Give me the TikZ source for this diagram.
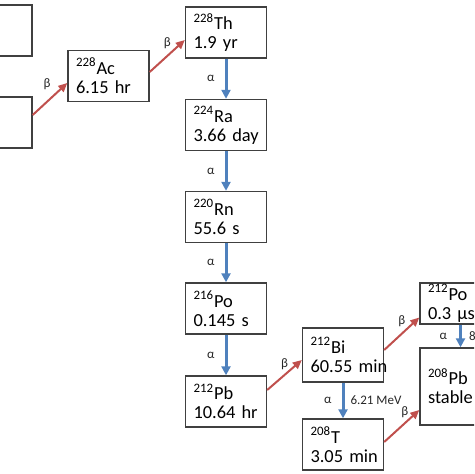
\documentclass[tikz,border=0pt]{standalone}
\usepackage{fontspec}
\setmainfont{Carlito}
\usepackage{xcolor}
\usetikzlibrary{arrows.meta}

\definecolor{decayred}{RGB}{192,80,77}
\definecolor{decayblue}{RGB}{79,129,189}

\tikzset{
  nuclide/.style={draw=black!75, line width=0.7pt, minimum width=40.5pt,
    minimum height=25.5pt, text width=32.5pt, inner xsep=4pt, inner ysep=0pt,
    align=left, font=\fontsize{9.2}{9.5}\selectfont},
  alphadecay/.style={-{Triangle[length=4.5pt,width=4.5pt]}, decayblue, line width=1.5pt},
  betadecay/.style={-{Triangle[length=4.5pt,width=4pt]}, decayred, line width=1pt},
  decaylbl/.style={font=\fontsize{6.5}{7}\selectfont, inner sep=0pt, text=black!85},
}

\begin{document}
\begin{tikzpicture}[x=0.5pt, y=-0.5pt]
  \useasboundingbox (0,0) rectangle (474,474);
  \clip (0,0) rectangle (474,474);

  % ── Parent boxes (cut at left edge) ──
  \node[nuclide] (topleft) at (-8.5,30.5) {};
  \node[nuclide] (ra228)   at (-8.5,122.5) {};
  \node[nuclide] (ac228)   at (108.5,76) {\textsuperscript{228}Ac\\6.15~hr};

  % ── Main column ──
  \node[nuclide] (th228) at (226,32.5)  {\textsuperscript{228}Th\\1.9~yr};
  \node[nuclide] (ra224) at (226,125)   {\textsuperscript{224}Ra\\3.66~day};
  \node[nuclide] (rn220) at (226,217)   {\textsuperscript{220}Rn\\55.6~s};
  \node[nuclide] (po216) at (226,308.5) {\textsuperscript{216}Po\\0.145~s};
  \node[nuclide] (pb212) at (226,401.5) {\textsuperscript{212}Pb\\10.64~hr};

  % ── Branching ──
  \node[nuclide, minimum height=27pt] (bi212) at (343,355)   {\textsuperscript{212}Bi\\60.55~min};
  \node[nuclide] (tl208) at (343,444.5) {\textsuperscript{208}T\\3.05~min};
  \node[nuclide, minimum height=20.5pt] (po212) at (460.5,303.5) {\textsuperscript{212}Po\\0.3~µs};
  \node[nuclide, minimum height=38.5pt, text depth=10pt] (pb208) at (460.5,386.5)
    {\textsuperscript{208}Pb\\stable};

  % ── Beta decays ──
  \draw[betadecay] ([yshift=3.75pt]ra228.east) -- ([yshift=-3.5pt]ac228.west)
    node[decaylbl, midway, above=4pt, xshift=-1.5pt] (b1) {β};
  \draw[betadecay] ([yshift=2pt]ac228.east) -- ([yshift=-3.75pt]th228.west)
    node[decaylbl, midway, above=3pt] (b2) {β};
  \draw[betadecay] ([yshift=5.75pt]pb212.east) -- ([yshift=-2.5pt]bi212.west)
    node[decaylbl, midway, above=2pt] (b3) {β};
  \draw[betadecay] ([yshift=2.5pt]bi212.east) -- ([yshift=-7pt]po212.west)
    node[decaylbl, midway, above=3pt] (b4) {β};
  \draw[betadecay] ([yshift=1.25pt]tl208.east) -- ([yshift=-11.75pt]pb208.west)
    node[decaylbl, midway, above=3.5pt, xshift=1.5pt] (b5) {β};

  % ── Alpha decays ──
  \foreach \from/\to in {th228/ra224, ra224/rn220, rn220/po216, po216/pb212} {
    \draw[alphadecay] (\from.south) -- (\to.north)
      node[decaylbl, midway, left=5pt] {α};
  }
  \draw[alphadecay] (bi212.south) -- (tl208.north)
    node[decaylbl, midway, left=5pt] (a5) {α}
    node[decaylbl, midway, right=3pt] (e5) {6.21 MeV};
  \draw[alphadecay] (po212.south) -- (pb208.north)
    node[decaylbl, midway, left=6pt] (a6) {α}
    node[decaylbl, midway, right=3.5pt] (e6) {8.78 MeV};
\end{tikzpicture}
\end{document}
